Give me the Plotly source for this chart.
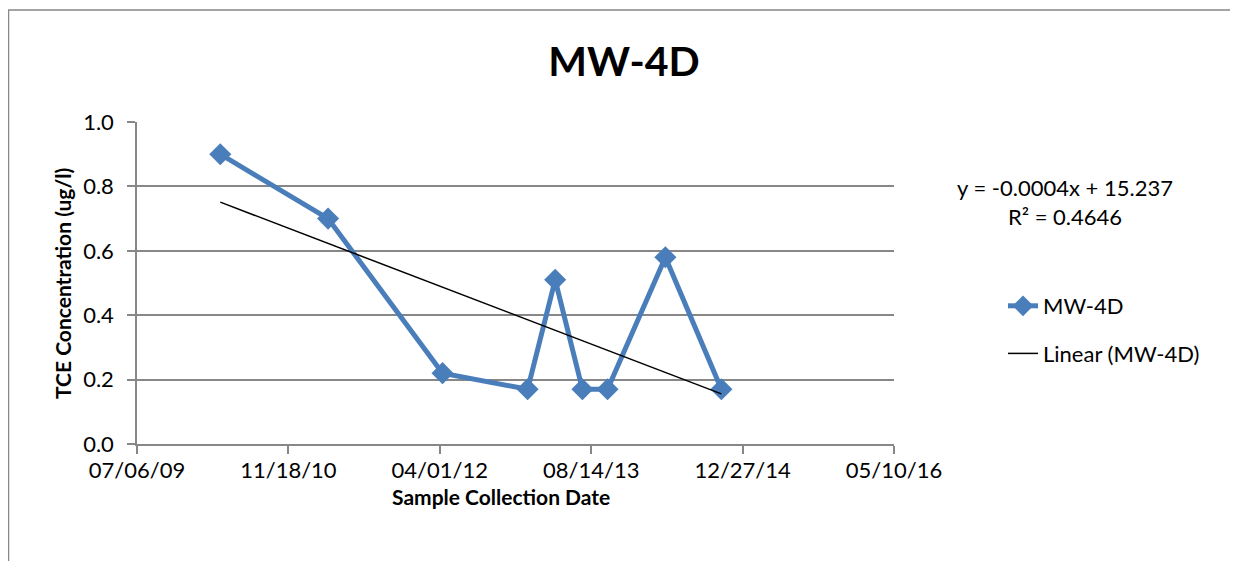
import numpy as np
import pandas as pd
import plotly.graph_objects as go


# donnees
dates = ["2010-04-07", "2011-03-29", "2012-04-10", "2013-01-16", "2013-04-17",
         "2013-07-16", "2013-10-07", "2014-04-16", "2014-10-18"]
tce = [0.90, 0.70, 0.22, 0.17, 0.51, 0.17, 0.17, 0.58, 0.17]

tick_dates = ["2009-07-06", "2010-11-18", "2012-04-01", "2013-08-14", "2014-12-27", "2016-05-10"]
tick_labels = ["07/06/09", "11/18/10", "04/01/12", "08/14/13", "12/27/14", "05/10/16"]

equation_text = "y = -0.0004x + 15.237<br>R² = 0.4646"

FONT = "Lato, Carlito, Calibri, sans-serif"
BLUE = "#4a7ebb"
GRID = "#878787"

#la page ajoute une marge de 8 px : les positions sont en pixels de la figure
W, H = 1238, 561
L, R, T, B = 129, 886, 114, 436  # zone de trace


#courbe de tendance lineaire (moindres carres sur les jours)
d = pd.to_datetime(dates)
days = (d - pd.Timestamp("1899-12-30")).days.values.astype(float)
slope, intercept = np.polyfit(days, tce, 1)
trend_x = [d[0], d[-1]]
trend_y = [slope * days[0] + intercept, slope * days[-1] + intercept]


def px_x(p):
    return (p - L) / (R - L)


def px_y(p):
    return (B - p) / (B - T)


fig = go.Figure()

fig.add_trace(go.Scatter(
    x=d, y=tce, mode="lines+markers", name="MW-4D",
    line=dict(color=BLUE, width=5),
    marker=dict(symbol="diamond", size=17, color=BLUE),
    legendgroup="a"))

fig.add_trace(go.Scatter(
    x=trend_x, y=trend_y, mode="lines", name="Linear (MW-4D)",
    line=dict(color="black", width=1.5),
    legendgroup="b"))

fig.update_layout(
    width=W, height=H,
    margin=dict(l=L, r=W - R, t=T, b=H - B),
    paper_bgcolor="white", plot_bgcolor="white",
    font=dict(family=FONT, size=22, color="black"),
    title=dict(text="<b>MW-4D</b>", x=616 / W, xanchor="center",
               y=1 - 54 / H, yanchor="middle", font=dict(size=41, family=FONT)),
    legend=dict(x=px_x(995), y=px_y(277), xanchor="left", yanchor="top",
                font=dict(size=22, family=FONT), tracegroupgap=16,
                bgcolor="rgba(0,0,0,0)"),
    showlegend=True,
)

fig.update_xaxes(
    range=[tick_dates[0], tick_dates[-1]],
    tickvals=tick_dates, ticktext=tick_labels,
    showgrid=False, showline=True, linecolor=GRID, linewidth=1.5,
    ticks="outside", ticklen=8, tickcolor=GRID, tickwidth=1.5,
    tickfont=dict(size=22), ticklabelstandoff=-2,
    zeroline=False)

fig.update_yaxes(
    range=[0, 1.0], dtick=0.2, tickformat=".1f",
    showgrid=True, gridcolor=GRID, gridwidth=1.5,
    showline=True, linecolor=GRID, linewidth=1.5,
    ticks="outside", ticklen=8, tickcolor=GRID, tickwidth=1.5,
    tickfont=dict(size=22), ticklabelstandoff=9,
    zeroline=False)

#titres des axes
fig.add_annotation(
    text="<b>Sample Collection Date</b>", xref="paper", yref="paper",
    x=px_x(493), y=px_y(488), xanchor="center", yanchor="middle",
    showarrow=False, font=dict(size=21, family=FONT))
fig.add_annotation(
    text="<b>TCE Concentration (ug/l)</b>", xref="paper", yref="paper",
    x=px_x(54), y=px_y(276), xanchor="center", yanchor="middle", textangle=-90,
    showarrow=False, font=dict(size=21, family=FONT))

#equation de la tendance
fig.add_annotation(
    text=equation_text, xref="paper", yref="paper",
    x=px_x(1057), y=px_y(194), xanchor="center", yanchor="middle",
    showarrow=False, align="center", font=dict(size=22, family=FONT))

#cadre du graphique
fig.add_shape(type="rect", xref="paper", yref="paper",
              x0=px_x(0.5), x1=px_x(W + 10), y0=px_y(H + 10), y1=px_y(2),
              line=dict(color=GRID, width=1.5), layer="below")

fig.write_html("out.html")
